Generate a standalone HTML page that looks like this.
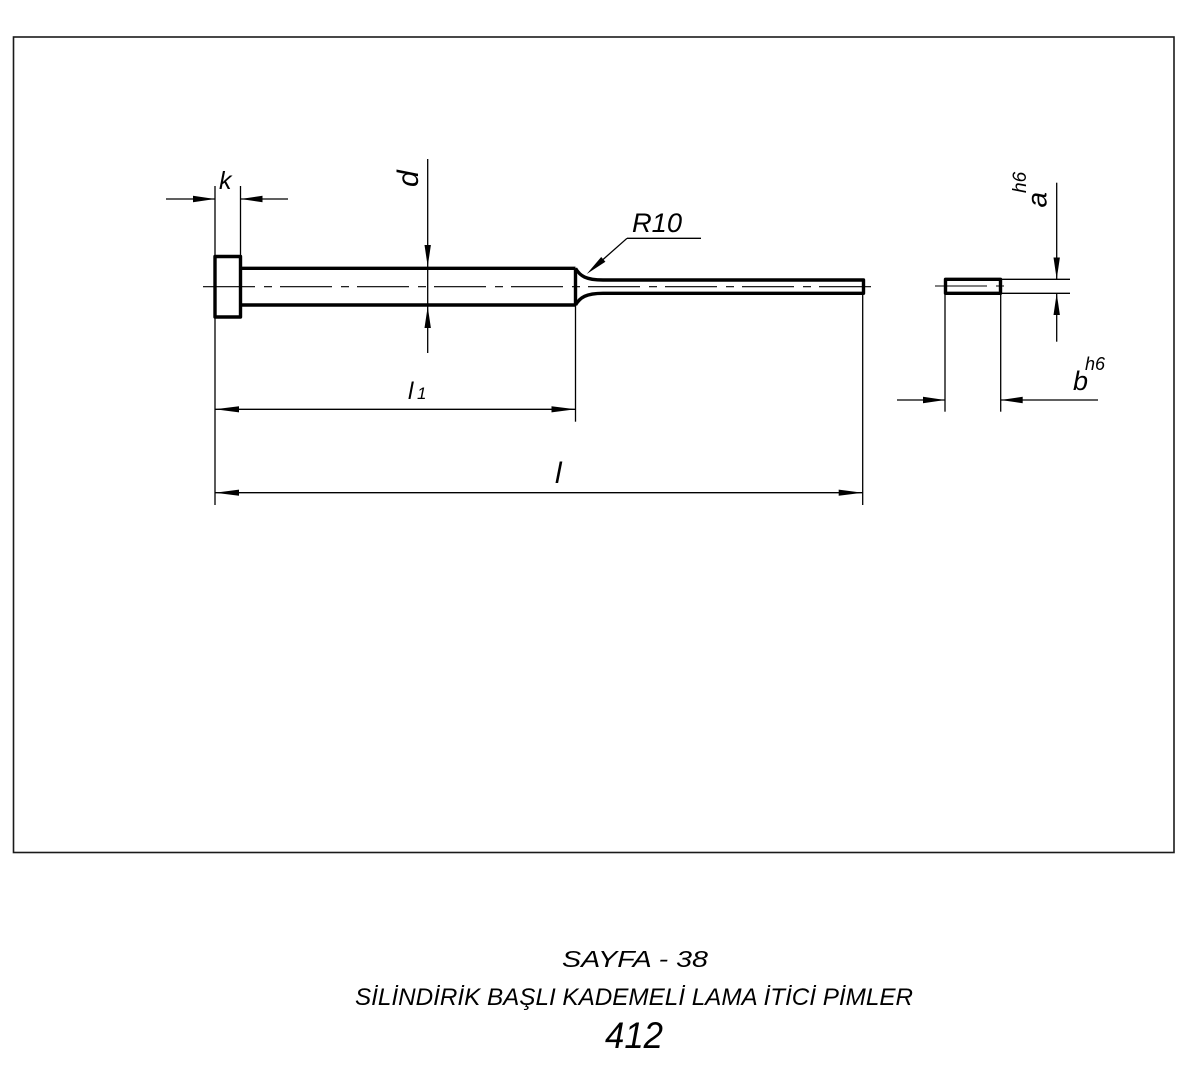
<!DOCTYPE html>
<html>
<head>
<meta charset="utf-8">
<style>
html,body{margin:0;padding:0;background:#fff;}
svg{display:block;}
text{font-family:"Liberation Sans",sans-serif;font-style:italic;fill:#000;}
</style>
</head>
<body>
<svg width="1186" height="1080" viewBox="0 0 1186 1080" xmlns="http://www.w3.org/2000/svg">
<rect x="0" y="0" width="1186" height="1080" fill="#fff"/>
<!-- frame -->
<rect x="13.5" y="37" width="1160.5" height="815.5" fill="none" stroke="#1a1a1a" stroke-width="1.6"/>

<!-- centerlines -->
<line x1="203" y1="286.7" x2="873" y2="286.7" stroke="#000" stroke-width="1.1" stroke-dasharray="52 9 8 8"/>
<line x1="935" y1="286" x2="1012" y2="286" stroke="#000" stroke-width="1" stroke-dasharray="52 9 8 8"/>

<!-- thin extension lines -->
<g stroke="#000" stroke-width="1.3" fill="none">
  <line x1="215" y1="186" x2="215" y2="505"/>
  <line x1="240.5" y1="186" x2="240.5" y2="256"/>
  <line x1="575.5" y1="305" x2="575.5" y2="421.7"/>
  <line x1="862.7" y1="293" x2="862.7" y2="505"/>
  <!-- d dim -->
  <line x1="427.7" y1="159" x2="427.7" y2="353"/>
  <!-- k dim -->
  <line x1="166" y1="199" x2="215" y2="199"/>
  <line x1="240.5" y1="199" x2="288" y2="199"/>
  <!-- l1 dim -->
  <line x1="215" y1="409.3" x2="575.5" y2="409.3"/>
  <!-- l dim -->
  <line x1="215" y1="492.7" x2="862.7" y2="492.7"/>
  <!-- R10 leader -->
  <line x1="627" y1="238.3" x2="595" y2="266.6"/>
  <line x1="627" y1="238.3" x2="701" y2="238.3"/>
  <!-- right view -->
  <line x1="1001" y1="279.3" x2="1070" y2="279.3"/>
  <line x1="1001" y1="293.3" x2="1070" y2="293.3"/>
  <line x1="1056.7" y1="182.7" x2="1056.7" y2="279.3"/>
  <line x1="1056.7" y1="293.3" x2="1056.7" y2="341.7"/>
  <line x1="945" y1="293" x2="945" y2="411.7"/>
  <line x1="1000.7" y1="293" x2="1000.7" y2="411.7"/>
  <line x1="897" y1="400" x2="945" y2="400"/>
  <line x1="1000.7" y1="400" x2="1098" y2="400"/>
</g>

<!-- arrowheads -->
<g fill="#000" stroke="none">
  <!-- k -->
  <polygon points="215,199 193,195.8 193,202.2"/>
  <polygon points="240.5,199 262.5,195.8 262.5,202.2"/>
  <!-- d -->
  <polygon points="427.7,266.5 424.5,245 430.9,245"/>
  <polygon points="427.7,306.5 424.5,328 430.9,328"/>
  <!-- l1 -->
  <polygon points="215,409.3 239,406.2 239,412.4"/>
  <polygon points="575.5,409.3 551.5,406.2 551.5,412.4"/>
  <!-- l -->
  <polygon points="215,492.7 239,489.6 239,495.8"/>
  <polygon points="862.7,492.7 838.7,489.6 838.7,495.8"/>
  <!-- R10 -->
  <polygon points="586.7,274 605.4,261.8 601.2,257"/>
  <!-- a -->
  <polygon points="1056.7,279.3 1053.5,257.5 1059.9,257.5"/>
  <polygon points="1056.7,293.3 1053.5,315 1059.9,315"/>
  <!-- b -->
  <polygon points="945,400 923,396.8 923,403.2"/>
  <polygon points="1000.7,400 1022.7,396.8 1022.7,403.2"/>
</g>

<!-- thick outlines -->
<g stroke="#000" stroke-width="3.4" fill="none" stroke-linejoin="round">
  <rect x="215" y="256.5" width="25.5" height="60.5"/>
  <line x1="240.5" y1="268.3" x2="575.5" y2="268.3"/>
  <line x1="240.5" y1="305" x2="575.5" y2="305"/>
  <line x1="575.5" y1="268.3" x2="575.5" y2="305"/>
  <path d="M575.5,268.3 C580,276 586,280 603,280 L863.5,280 L863.5,293.3 L603,293.3 C586,293.3 580,297.5 575.5,305"/>
  <rect x="945.5" y="279.3" width="55" height="14"/>
</g>

<!-- dimension texts -->
<text x="219" y="189" font-size="25">k</text>
<text transform="translate(418,187) rotate(-90)" font-size="30">d</text>
<text x="632" y="232" font-size="27" textLength="50" lengthAdjust="spacingAndGlyphs">R10</text>
<text x="408" y="399" font-size="24">l</text>
<text x="417" y="399" font-size="17">1</text>
<text x="555" y="483" font-size="30">l</text>
<text transform="translate(1046.7,207.5) rotate(-90)" font-size="28">a</text>
<text transform="translate(1026,193) rotate(-90)" font-size="19">h6</text>
<text x="1073" y="390" font-size="27">b</text>
<text x="1085" y="370" font-size="18">h6</text>

<!-- title texts -->
<text x="562" y="967" font-size="23" textLength="146" lengthAdjust="spacingAndGlyphs">SAYFA - 38</text>
<text x="355" y="1005" font-size="24.5" textLength="558" lengthAdjust="spacingAndGlyphs">SİLİNDİRİK BAŞLI KADEMELİ LAMA İTİCİ PİMLER</text>
<text x="605" y="1048" font-size="37" textLength="58" lengthAdjust="spacingAndGlyphs">412</text>
</svg>
</body>
</html>
